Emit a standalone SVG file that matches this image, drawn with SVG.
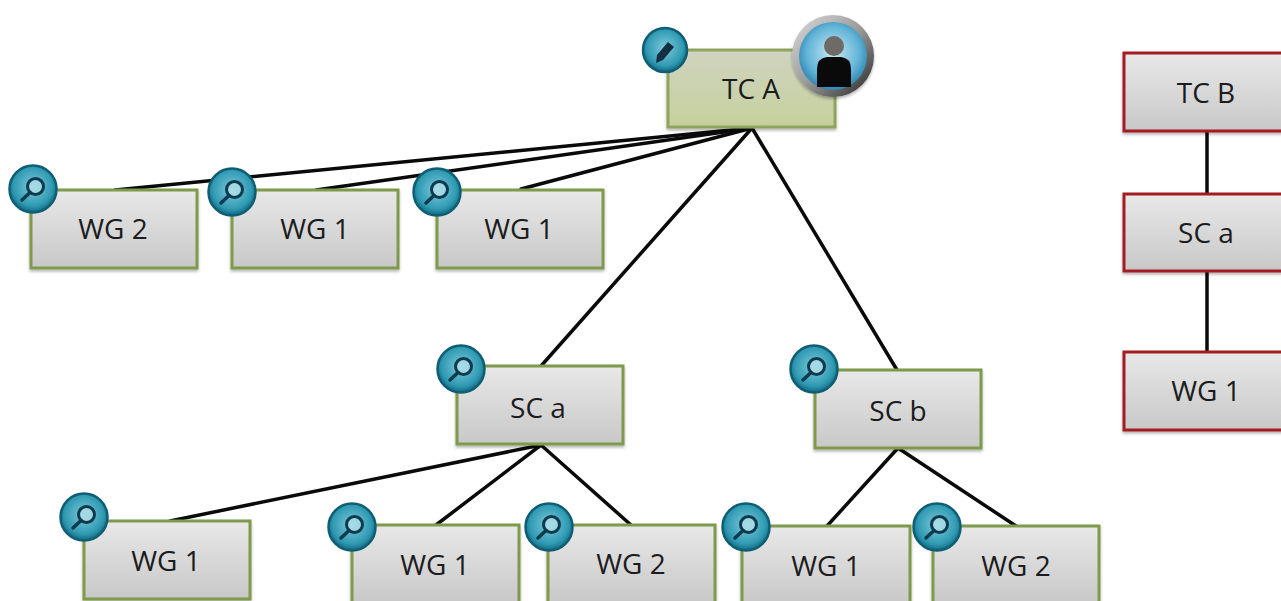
<svg xmlns="http://www.w3.org/2000/svg" xmlns:xlink="http://www.w3.org/1999/xlink" width="1281" height="601" viewBox="0 0 1281 601">
<style>
text{font-family:"Open Sans","Noto Sans","DejaVu Sans",sans-serif;font-size:28px;fill:#1c1c20;text-anchor:middle}
.g{fill:url(#gray);stroke:#7f9a4d;stroke-width:3}
.r{fill:url(#gray);stroke:#a31f24;stroke-width:3}
.c line{stroke:#0a0a0a;stroke-width:3.5;stroke-linecap:round}
</style>
<defs>
<linearGradient id="gray" x1="0" y1="0" x2="0" y2="1"><stop offset="0" stop-color="#e8e8e8"/><stop offset="1" stop-color="#c8c8c8"/></linearGradient>
<linearGradient id="green" x1="0" y1="0" x2="0" y2="1"><stop offset="0" stop-color="#d0d3c0"/><stop offset="1" stop-color="#c5d19c"/></linearGradient>
<radialGradient id="ball" cx="0.5" cy="0.45" r="0.55"><stop offset="0" stop-color="#7fcadb"/><stop offset="0.75" stop-color="#2f9ab3"/><stop offset="1" stop-color="#11677f"/></radialGradient>
<radialGradient id="avatar" cx="0.5" cy="0.45" r="0.55"><stop offset="0" stop-color="#c9e9f4"/><stop offset="0.7" stop-color="#62b4d8"/><stop offset="1" stop-color="#2f86b0"/></radialGradient>
<linearGradient id="ring" x1="0" y1="0" x2="1" y2="1"><stop offset="0" stop-color="#dcdcdc"/><stop offset="0.5" stop-color="#9a9a9a"/><stop offset="1" stop-color="#242424"/></linearGradient>
<filter id="sh" x="-10%" y="-10%" width="120%" height="125%"><feDropShadow dx="0" dy="2" stdDeviation="1.5" flood-color="#000" flood-opacity="0.3"/></filter>
<g id="lens"><circle r="23.5" fill="url(#ball)" stroke="#0f5e74" stroke-width="2.5"/><circle cx="2.5" cy="-2.5" r="8" fill="#b4e0ea" fill-opacity="0.75" stroke="#0d3a4c" stroke-width="3"/><line x1="-3" y1="3.5" x2="-11" y2="11" stroke="#0d3a4c" stroke-width="3.5" stroke-linecap="round"/></g>
</defs>
<rect width="1281" height="601" fill="#fff"/>
<g id="connectors" class="c">
<line x1="752" y1="128" x2="115" y2="190"/>
<line x1="752" y1="128" x2="316" y2="190"/>
<line x1="752" y1="128" x2="521" y2="189"/>
<line x1="752" y1="128" x2="541" y2="366"/>
<line x1="752" y1="128" x2="897" y2="370"/>
<line x1="541" y1="445" x2="170" y2="521"/>
<line x1="541" y1="445" x2="436" y2="525"/>
<line x1="541" y1="445" x2="631" y2="525"/>
<line x1="898" y1="448" x2="827" y2="526"/>
<line x1="898" y1="448" x2="1016" y2="526"/>
<line x1="1207" y1="131" x2="1207" y2="194"/>
<line x1="1207" y1="271" x2="1207" y2="352"/>
</g>
<g id="tc-a"><rect x="668" y="50" width="167" height="77" fill="url(#green)" stroke="#8fa45c" stroke-width="3" filter="url(#sh)"/><text x="751" y="99">TC A</text>
<circle cx="665" cy="50" r="22" fill="url(#ball)" stroke="#0f5e74" stroke-width="2.5"/><path d="M656 63l1-8 11-13 6 5-11 13z" fill="#12303f"/>
<circle cx="833" cy="56" r="41" fill="url(#ring)" filter="url(#sh)"/><circle cx="833" cy="56" r="34" fill="url(#avatar)"/><circle cx="834" cy="46" r="10" fill="#6f6a66"/><path d="M817 87v-18q0-11 10-12h14q10 1 10 12v18z" fill="#0a0a0a"/></g>
<g id="wg2-a"><rect class="g" x="31" y="190" width="166" height="78" filter="url(#sh)"/><text x="113" y="239">WG 2</text><use xlink:href="#lens" x="33" y="189"/></g>
<g id="wg1-a"><rect class="g" x="232" y="190" width="166" height="78" filter="url(#sh)"/><text x="315" y="239">WG 1</text><use xlink:href="#lens" x="232" y="192"/></g>
<g id="wg1-b"><rect class="g" x="437" y="190" width="166" height="78" filter="url(#sh)"/><text x="519" y="239">WG 1</text><use xlink:href="#lens" x="437" y="192"/></g>
<g id="sc-a"><rect class="g" x="457" y="366" width="166" height="78" filter="url(#sh)"/><text x="538" y="418">SC a</text><use xlink:href="#lens" x="461" y="369"/></g>
<g id="sc-b"><rect class="g" x="815" y="370" width="166" height="78" filter="url(#sh)"/><text x="898" y="421">SC b</text><use xlink:href="#lens" x="814" y="369"/></g>
<g id="wg1-c"><rect class="g" x="84" y="521" width="166" height="78" filter="url(#sh)"/><text x="166" y="571">WG 1</text><use xlink:href="#lens" x="84" y="517"/></g>
<g id="wg1-d"><rect class="g" x="352" y="525" width="167" height="78" filter="url(#sh)"/><text x="435" y="575">WG 1</text><use xlink:href="#lens" x="352" y="527"/></g>
<g id="wg2-b"><rect class="g" x="548" y="525" width="167" height="78" filter="url(#sh)"/><text x="631" y="574">WG 2</text><use xlink:href="#lens" x="549" y="527"/></g>
<g id="wg1-e"><rect class="g" x="742" y="526" width="168" height="78" filter="url(#sh)"/><text x="826" y="576">WG 1</text><use xlink:href="#lens" x="746" y="527"/></g>
<g id="wg2-c"><rect class="g" x="933" y="526" width="166" height="78" filter="url(#sh)"/><text x="1016" y="576">WG 2</text><use xlink:href="#lens" x="937" y="527"/></g>
<g id="tc-b"><rect class="r" x="1124" y="53" width="166" height="78" filter="url(#sh)"/><text x="1206" y="103">TC B</text></g>
<g id="sc-a-r"><rect class="r" x="1124" y="194" width="166" height="77" filter="url(#sh)"/><text x="1206" y="243">SC a</text></g>
<g id="wg1-r"><rect class="r" x="1124" y="352" width="166" height="78" filter="url(#sh)"/><text x="1206" y="401">WG 1</text></g>
</svg>
